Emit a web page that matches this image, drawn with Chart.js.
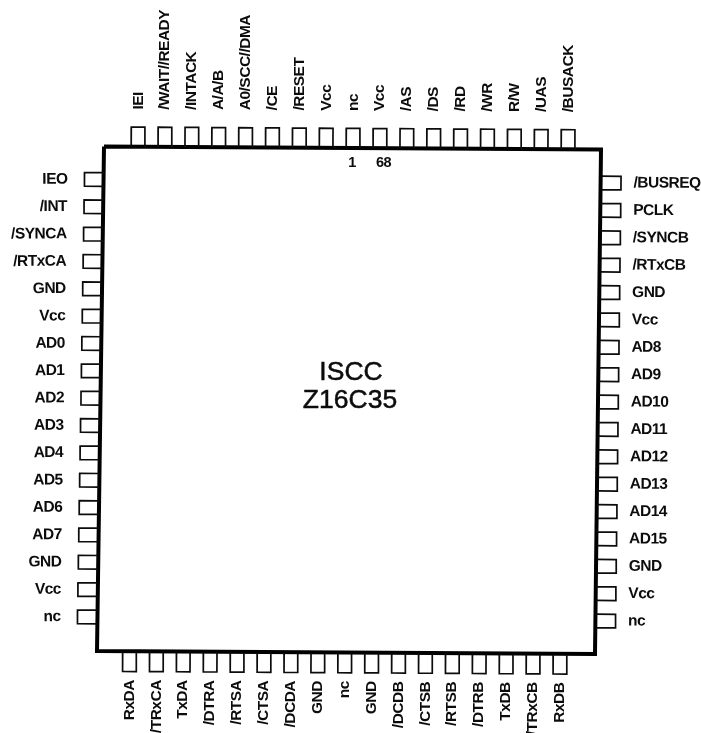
<!DOCTYPE html>
<html>
<head>
<meta charset="utf-8">
<title>ISCC Z16C35</title>
<style>
  html, body { margin: 0; padding: 0; background: #fff; }
  canvas { display: block; }
</style>
<script src="https://cdn.jsdelivr.net/npm/chart.js@4"></script>
</head>
<body>
<canvas id="pinout" width="701" height="733"></canvas>
<script>
"use strict";

const topPins = ["IEI", "/WAIT//READY", "/INTACK", "A/A/B", "A0/SCC//DMA", "/CE", "/RESET", "Vcc", "nc", "Vcc", "/AS", "/DS", "/RD", "/WR", "R/W", "/UAS", "/BUSACK"];
const bottomPins = ["RxDA", "/TRxCA", "TxDA", "/DTRA", "/RTSA", "/CTSA", "/DCDA", "GND", "nc", "GND", "/DCDB", "/CTSB", "/RTSB", "/DTRB", "TxDB", "/TRxCB", "RxDB"];
const leftPins = ["IEO", "/INT", "/SYNCA", "/RTxCA", "GND", "Vcc", "AD0", "AD1", "AD2", "AD3", "AD4", "AD5", "AD6", "AD7", "GND", "Vcc", "nc"];
const rightPins = ["/BUSREQ", "PCLK", "/SYNCB", "/RTxCB", "GND", "Vcc", "AD8", "AD9", "AD10", "AD11", "AD12", "AD13", "AD14", "AD15", "GND", "Vcc", "nc"];
const chipName = ["ISCC", "Z16C35"];
const pinNumbers = ["1", "68"];

const ink = "#0c0c0c";
const labelFont = "bold 15.5px 'Liberation Sans'";

// the scan is slightly skewed, so every side has its own first and last pin
const sides = [
  { names: topPins, from: [138, 146.6], to: [568, 149.2], out: [0.006, -1], labelAt: 37, align: "left", turn: -Math.PI / 2 },
  { names: bottomPins, from: [129.5, 652], to: [560, 654.5], out: [-0.006, 1], labelAt: 28, align: "right", turn: -Math.PI / 2 },
  { names: leftPins, from: [104, 179.5], to: [97, 617], out: [-1, -0.006], labelAt: 36.5, align: "right", turn: 0 },
  { names: rightPins, from: [601.5, 183], to: [596, 621], out: [1, 0.006], labelAt: 32, align: "left", turn: 0 },
];
const bodyCorners = [
  { x: 104, y: 146.5 }, { x: 601, y: 149.5 }, { x: 595, y: 654 }, { x: 97, y: 651 }, { x: 104, y: 146.5 },
];

const pinCentre = (side, i) => {
  const t = i / (side.names.length - 1);
  return [
    side.from[0] + (side.to[0] - side.from[0]) * t,
    side.from[1] + (side.to[1] - side.from[1]) * t,
  ];
};

const pinOutline = (side) => {
  const points = [];
  const len = 19.5;
  const half = 6.8;
  const along = [side.out[1], -side.out[0]];
  side.names.forEach((name, i) => {
    const c = pinCentre(side, i);
    const corner = (a, b) => ({
      x: c[0] + along[0] * a + side.out[0] * b,
      y: c[1] + along[1] * a + side.out[1] * b,
    });
    points.push(corner(-half, 0), corner(-half, len), corner(half, len), corner(half, 0), { x: null, y: null });
  });
  return points;
};

const pinLabels = {
  id: "pinLabels",
  afterDatasetsDraw(chart) {
    const { ctx, scales } = chart;
    ctx.save();
    ctx.fillStyle = ink;
    ctx.textBaseline = "middle";
    ctx.font = labelFont;
    ctx.letterSpacing = "-0.5px";
    sides.forEach((side) => {
      side.names.forEach((name, i) => {
        const c = pinCentre(side, i);
        const x = c[0] + side.out[0] * side.labelAt;
        const y = c[1] + side.out[1] * side.labelAt;
        ctx.save();
        ctx.translate(scales.x.getPixelForValue(x), scales.y.getPixelForValue(y));
        ctx.rotate(side.turn + Math.atan2(side.out[1] * (side.turn ? 0 : 1), 1));
        ctx.textAlign = side.align;
        ctx.fillText(name, 0, 0);
        ctx.restore();
      });
    });

    ctx.font = "bold 14.5px 'Liberation Sans'";
    ctx.textAlign = "center";
    ctx.fillText(pinNumbers[0], scales.x.getPixelForValue(352), scales.y.getPixelForValue(163));
    ctx.fillText(pinNumbers[1], scales.x.getPixelForValue(383.5), scales.y.getPixelForValue(163));

    // the scanned title is a little heavier than the regular weight
    ctx.letterSpacing = "0px";
    ctx.font = "26.5px 'Liberation Sans'";
    ctx.strokeStyle = ink;
    ctx.lineWidth = 0.5;
    [[351, 373], [350, 401]].forEach((at, i) => {
      const x = scales.x.getPixelForValue(at[0]);
      const y = scales.y.getPixelForValue(at[1]);
      ctx.fillText(chipName[i], x, y);
      ctx.strokeText(chipName[i], x, y);
    });
    ctx.restore();
  },
};

new Chart(document.getElementById("pinout"), {
  type: "scatter",
  data: {
    datasets: [
      ...sides.map((side) => ({
        data: pinOutline(side),
        showLine: true,
        spanGaps: false,
        borderColor: ink,
        borderWidth: 1.7,
        pointRadius: 0,
      })),
      {
        data: bodyCorners,
        showLine: true,
        borderColor: "#000",
        borderWidth: 4,
        pointRadius: 0,
        borderJoinStyle: "miter",
      },
    ],
  },
  plugins: [pinLabels],
  options: {
    responsive: false,
    animation: false,
    layout: { padding: 0 },
    plugins: { legend: { display: false }, tooltip: { enabled: false } },
    scales: {
      x: { display: false, min: 0, max: 701 },
      y: { display: false, min: 0, max: 733, reverse: true },
    },
  },
});
</script>
</body>
</html>
